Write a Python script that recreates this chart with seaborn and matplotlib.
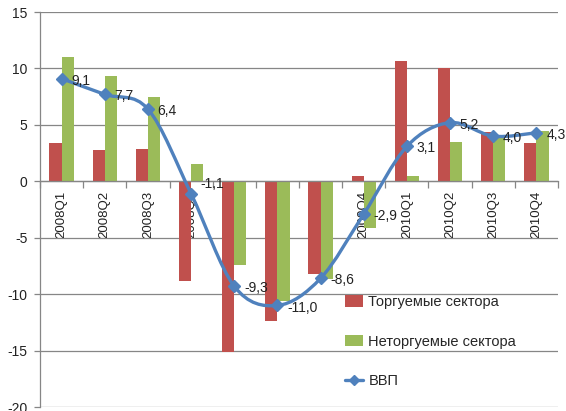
# -*- coding: utf-8 -*-
import numpy as np
import pandas as pd
import matplotlib
matplotlib.use('Agg')
import matplotlib.pyplot as plt
from matplotlib.path import Path
from matplotlib.patches import PathPatch, Patch
from matplotlib.lines import Line2D
import seaborn as sns

# данные
quarters = ['2008Q1', '2008Q2', '2008Q3', '2008Q4',
            '2009Q1', '2009Q2', '2009Q3', '2009Q4',
            '2010Q1', '2010Q2', '2010Q3', '2010Q4']
tradable = [3.4, 2.8, 2.9, -8.8, -15.1, -12.4, -8.2, 0.5, 10.7, 10.0, 4.4, 3.4]
nontradable = [11.0, 9.3, 7.5, 1.5, -7.4, -10.6, -8.7, -4.1, 0.5, 3.5, 4.0, 4.5]
gdp = [9.1, 7.7, 6.4, -1.1, -9.3, -11.0, -8.6, -2.9, 3.1, 5.2, 4.0, 4.3]
series_names = ['Торгуемые сектора', 'Неторгуемые сектора']
gdp_name = 'ВВП'

RED = '#C0504D'
GREEN = '#9BBB59'
BLUE = '#4F81BD'
GRAY = '#868686'

sns.set_theme(style='white')
plt.rcParams['font.family'] = ['Liberation Sans', 'DejaVu Sans']
plt.rcParams['axes.unicode_minus'] = False

df = pd.DataFrame({
    'quarter': quarters * 2,
    'value': tradable + nontradable,
    'series': [series_names[0]] * len(quarters) + [series_names[1]] * len(quarters),
})

fig = plt.figure(figsize=(5.66, 4.11), dpi=100)
ax = fig.add_axes([40 / 566, 4 / 411, 518 / 566, 395 / 411])

sns.barplot(data=df, x='quarter', y='value', hue='series', order=quarters,
            hue_order=series_names, palette=[RED, GREEN], width=0.56,
            saturation=1, ax=ax, legend=False, linewidth=0)

# сглаженная линия ВВП (кривые Безье через точки)
x = np.arange(len(gdp), dtype=float)
y = np.array(gdp, dtype=float)
pts = np.column_stack([x, y])
verts = [pts[0]]
codes = [Path.MOVETO]
n = len(pts)
for i in range(n - 1):
    p0 = pts[i - 1] if i > 0 else pts[i]
    p1 = pts[i]
    p2 = pts[i + 1]
    p3 = pts[i + 2] if i + 2 < n else pts[i + 1]
    c1 = p1 + (p2 - p0) / 6.0
    c2 = p2 - (p3 - p1) / 6.0
    verts += [c1, c2, p2]
    codes += [Path.CURVE4] * 3
ax.add_patch(PathPatch(Path(verts, codes), facecolor='none', edgecolor=BLUE,
                       lw=2.4, zorder=4, capstyle='round'))
ax.plot(x, y, linestyle='none', marker='D', markersize=6, color=BLUE, zorder=5)

for i, v in enumerate(gdp):
    txt = f'{v:.1f}'.replace('.', ',')
    off = (7, -1.5)
    if i == 3:
        off = (7, 7)
    ax.annotate(txt, (i, v), xytext=off, textcoords='offset points',
                ha='left', va='center', fontsize=10, color='#222222', zorder=6)

# оси
ax.set_xlim(-0.5, len(quarters) - 0.5)
ax.set_ylim(-20, 15)
ax.set_yticks(np.arange(-20, 16, 5))
ax.yaxis.grid(True, color=GRAY, linewidth=0.9)
ax.set_axisbelow(True)
ax.set_xlabel('')
ax.set_ylabel('')

for s in ['top', 'right']:
    ax.spines[s].set_visible(False)
ax.spines['left'].set_color(GRAY)
ax.spines['bottom'].set_color(GRAY)
ax.spines['bottom'].set_position(('data', 0))
ax.spines['left'].set_linewidth(0.9)
ax.spines['bottom'].set_linewidth(0.9)

ax.set_xticks(np.arange(len(quarters)))
ax.set_xticklabels(quarters, rotation=90, fontsize=9.5)
ax.set_xticks(np.arange(-0.5, len(quarters), 1.0), minor=True)
ax.tick_params(axis='x', which='major', length=0, pad=7, colors='#222222')
ax.tick_params(axis='x', which='minor', length=5, color=GRAY, width=0.9,
               direction='out', bottom=True)
ax.tick_params(axis='y', length=4, color=GRAY, width=0.9, left=True,
               pad=5, labelsize=10, labelcolor='#222222')

handles = [Patch(facecolor=RED, edgecolor='none'),
           Patch(facecolor=GREEN, edgecolor='none'),
           Line2D([], [], color=BLUE, lw=2.4, marker='D', markersize=5)]
ax.legend(handles, series_names + [gdp_name], loc='upper left',
          bbox_to_anchor=(345 / 566, 1 - 295 / 411), bbox_transform=fig.transFigure,
          frameon=False, fontsize=10.5, labelspacing=1.75, handlelength=1.2,
          handleheight=0.8, handletextpad=0.4, borderpad=0, borderaxespad=0)

fig.savefig('out.png', dpi=100)
